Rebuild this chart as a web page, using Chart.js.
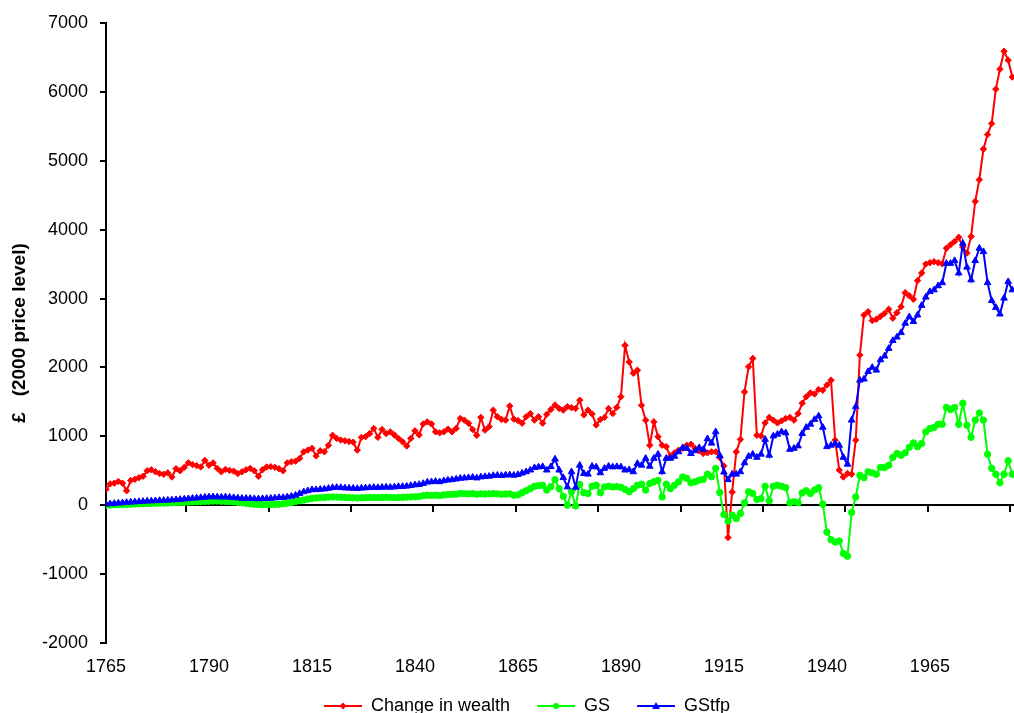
<!DOCTYPE html>
<html>
<head>
<meta charset="utf-8">
<script src="https://cdn.jsdelivr.net/npm/chart.js@4.4.1/dist/chart.umd.min.js"></script>
<style>
html,body{margin:0;padding:0;background:#fff;overflow:hidden;}
#wrap{width:1014px;height:713px;overflow:hidden;position:relative;background:#fff;}
canvas{display:block;}
</style>
</head>
<body>
<div id="wrap"><canvas id="c" width="1051" height="740"></canvas></div>
<script>
// ---- data (one value per year, starting at firstYear) ----
const firstYear = 1765;
const seriesNames = ['Change in wealth', 'GS', 'GStfp'];
const changeInWealth = [
  230, 310, 320, 345, 320, 210, 360, 375, 400, 420,
  500, 515, 485, 460, 450, 470, 410, 530, 500, 550,
  615, 590, 575, 555, 650, 580, 615, 535, 485, 520,
  505, 495, 460, 485, 515, 535, 500, 420, 515, 555,
  560, 550, 530, 500, 615, 630, 640, 680, 775, 800,
  825, 715, 790, 775, 870, 1015, 970, 945, 935, 925,
  915, 800, 985, 995, 1040, 1115, 985, 1100, 1040, 1065,
  1020, 970, 920, 860, 970, 1080, 1020, 1180, 1210, 1180,
  1065, 1050, 1065, 1105, 1065, 1115, 1260, 1235, 1190, 1100,
  1015, 1275, 1090, 1140, 1380, 1285, 1245, 1235, 1440, 1250,
  1230, 1190, 1285, 1330, 1235, 1285, 1190, 1320, 1390, 1455,
  1405, 1380, 1430, 1415, 1405, 1525, 1310, 1380, 1325, 1165,
  1245, 1275, 1405, 1330, 1420, 1575, 2320, 2080, 1915, 1960,
  1450, 1235, 870, 1210, 995, 870, 850, 710, 760, 800,
  825, 870, 885, 825, 790, 750, 760, 775, 775, 690,
  570, -470, 190, 775, 955, 1645, 2010, 2130, 1015, 1005,
  1195, 1275, 1235, 1195, 1225, 1260, 1275, 1235, 1330, 1480,
  1575, 1630, 1615, 1680, 1670, 1745, 1815, 945, 510, 410,
  460, 450, 945, 2180, 2760, 2810, 2680, 2700, 2740, 2785,
  2845, 2715, 2795, 2880, 3085, 3040, 2990, 3260, 3370, 3500,
  3520, 3535, 3520, 3505, 3730, 3780, 3830, 3890, 3745, 3660,
  3900, 4410, 4725, 5170, 5380, 5540, 6040, 6330, 6590, 6460, 6215
];
const gs = [
  0, 3, 5, 8, 10, 12, 15, 18, 20, 22,
  25, 25, 28, 30, 30, 32, 35, 38, 40, 42,
  45, 48, 50, 52, 55, 58, 60, 60, 58, 55,
  52, 48, 42, 35, 28, 20, 15, 10, 8, 8,
  10, 12, 15, 20, 30, 40, 55, 65, 75, 90,
  100, 105, 110, 112, 118, 120, 118, 115, 112, 110,
  108, 105, 108, 110, 112, 112, 110, 112, 115, 112,
  110, 112, 115, 118, 120, 122, 125, 140, 145, 142,
  145, 140, 150, 155, 158, 160, 170, 168, 165, 168,
  160, 165, 162, 165, 168, 165, 160, 162, 165, 145,
  150, 180, 210, 240, 275, 285, 290, 220, 270, 370,
  240, 130, 0, 195, -10, 300, 180, 170, 275, 290,
  180, 265, 275, 265, 270, 260, 230, 195, 240, 290,
  305, 220, 315, 340, 360, 120, 305, 240, 290, 340,
  410, 390, 325, 340, 365, 375, 450, 415, 535, 185,
  -135, -230, -145, -195, -120, 35, 195, 170, 85, 95,
  275, 65, 275, 290, 275, 255, 35, 50, 35, 180,
  210, 170, 220, 255, 15, -390, -500, -535, -520, -700,
  -740, -105, 120, 435, 400, 485, 470, 450, 548, 548,
  580, 695, 750, 725, 760, 840, 905, 850, 895, 1065,
  1115, 1130, 1175, 1175, 1420, 1390, 1420, 1175, 1480, 1160,
  985, 1235, 1340, 1235, 740, 535, 450, 325, 450, 645, 450
];
const gstfp = [
  15, 20, 25, 30, 35, 40, 45, 48, 52, 55,
  60, 62, 65, 68, 70, 73, 76, 80, 84, 90,
  95, 100, 105, 110, 115, 120, 122, 120, 118, 120,
  115, 110, 105, 100, 100, 98, 95, 92, 95, 98,
  100, 105, 110, 112, 120, 130, 145, 170, 195, 210,
  225, 225, 230, 235, 245, 255, 258, 255, 250, 248,
  245, 242, 248, 252, 255, 258, 255, 260, 262, 260,
  265, 270, 272, 276, 285, 295, 300, 315, 335, 340,
  345, 340, 355, 365, 370, 380, 390, 395, 400, 405,
  395, 410, 415, 420, 430, 435, 430, 438, 440, 435,
  445, 465, 485, 510, 545, 555, 560, 510, 560, 670,
  510, 400, 265, 485, 260, 580, 460, 450, 565, 555,
  470, 535, 565, 555, 560, 555, 510, 515, 485, 605,
  580, 680, 565, 680, 740, 485, 680, 680, 710, 775,
  835, 825, 750, 790, 835, 810, 965, 900, 1065, 720,
  480, 370, 450, 450, 485, 615, 710, 740, 695, 740,
  955, 725, 1005, 1030, 1065, 1050, 810, 825, 860, 1040,
  1130, 1175, 1245, 1295, 1130, 850, 870, 895, 870, 695,
  595, 1235, 1430, 1815, 1830, 1940, 2000, 1960, 2110, 2165,
  2275, 2390, 2440, 2505, 2640, 2735, 2665, 2760, 2900, 3020,
  3100, 3125, 3185, 3230, 3510, 3510, 3550, 3370, 3800, 3455,
  3270, 3550, 3730, 3680, 3230, 2970, 2870, 2775, 3005, 3245, 3125
];
const xTickLabels = [1765, 1790, 1815, 1840, 1865, 1890, 1915, 1940, 1965];
const xTickMarks = [1784.5, 1804.5, 1824.5, 1844.5, 1864.5, 1884.5, 1904.5, 1924.5, 1944.5, 1964.5, 1984.5];
const yMin = -2000, yMax = 7000, yStep = 1000;
const xMin = 1765, xMax = 1991;
const yTitle = '£   (2000 price level)';

// ---- chart ----
const FONT = '"Liberation Sans", Arial, sans-serif';
const years = changeInWealth.map((_, i) => firstYear + i);
const toPoints = arr => arr.map((v, i) => ({x: years[i], y: v}));
const colors = ['#FF0000', '#00FF00', '#0000FF'];
const styles = ['rectRot', 'circle', 'triangle'];

function legendIcon(color, style) {
  const c = document.createElement('canvas');
  c.width = 55; c.height = 14;
  const g = c.getContext('2d');
  g.strokeStyle = color; g.lineWidth = 2;
  g.beginPath(); g.moveTo(17, 7); g.lineTo(55, 7); g.stroke();
  g.fillStyle = color;
  const cx = 36, cy = 7;
  g.beginPath();
  if (style === 'rectRot') { g.moveTo(cx, cy - 3.5); g.lineTo(cx + 3.5, cy); g.lineTo(cx, cy + 3.5); g.lineTo(cx - 3.5, cy); }
  else if (style === 'circle') { g.arc(cx, cy, 3, 0, Math.PI * 2); }
  else { g.moveTo(cx, cy - 4); g.lineTo(cx + 4, cy + 3); g.lineTo(cx - 4, cy + 3); }
  g.closePath(); g.fill();
  return c;
}
const icons = colors.map((c, i) => legendIcon(c, styles[i]));

const seriesData = [changeInWealth, gs, gstfp];
const datasets = seriesData.map((arr, i) => ({
  label: seriesNames[i],
  data: toPoints(arr),
  borderColor: colors[i],
  backgroundColor: colors[i],
  borderWidth: 2,
  pointStyle: styles[i],
  pointRadius: i === 2 ? 3.8 : 3.2,
  pointBorderWidth: 1,
  pointBackgroundColor: colors[i],
  pointBorderColor: colors[i],
  tension: 0,
  order: 2 - i
}));

new Chart(document.getElementById('c'), {
  type: 'line',
  data: {datasets},
  options: {
    responsive: false,
    animation: false,
    layout: {padding: {left: 0, right: 14, top: 23, bottom: 15}},
    plugins: {
      tooltip: {enabled: false},
      legend: {
        position: 'bottom',
        labels: {
          usePointStyle: true,
          pointStyleWidth: 55,
          boxHeight: 14,
          padding: 10,
          color: '#000',
          font: {size: 18, family: FONT},
          sort: (a, b) => a.datasetIndex - b.datasetIndex,
          generateLabels(chart) {
            const items = Chart.defaults.plugins.legend.labels.generateLabels(chart);
            items.forEach((it) => { it.pointStyle = icons[it.datasetIndex]; });
            return items;
          }
        }
      }
    },
    scales: {
      x: {
        type: 'linear',
        position: 'bottom',
        min: xMin, max: xMax,
        grid: {display: false, drawTicks: false},
        border: {display: false},
        ticks: {
          color: '#000', font: {size: 18, family: FONT}, padding: 13,
          maxRotation: 0, autoSkip: false,
          callback: v => String(v)
        },
        afterBuildTicks: s => { s.ticks = xTickLabels.map(v => ({value: v})); },
        afterFit: s => { s.height = 44; }
      },
      x2: {
        type: 'linear',
        axis: 'x',
        position: {y: 0},
        min: xMin, max: xMax,
        grid: {display: true, drawOnChartArea: false, drawTicks: true, tickLength: 6, color: '#000', lineWidth: 2},
        border: {display: true, color: '#000', width: 2},
        ticks: {display: false},
        afterBuildTicks: s => { s.ticks = xTickMarks.map(v => ({value: v})); }
      },
      y: {
        type: 'linear',
        position: 'left',
        min: yMin, max: yMax,
        grid: {display: true, drawOnChartArea: false, drawTicks: true, tickLength: 6, color: '#000', lineWidth: 2},
        border: {display: true, color: '#000', width: 2},
        ticks: {stepSize: yStep, color: '#000', font: {size: 18, family: FONT}, padding: 12, callback: v => String(v)},
        title: {display: true, text: yTitle, color: '#000', font: {size: 19, weight: 'bold', family: FONT}, padding: {top: 8, bottom: 0}},
        afterFit: s => { s.width = 106; }
      }
    }
  }
});
</script>
</body>
</html>
